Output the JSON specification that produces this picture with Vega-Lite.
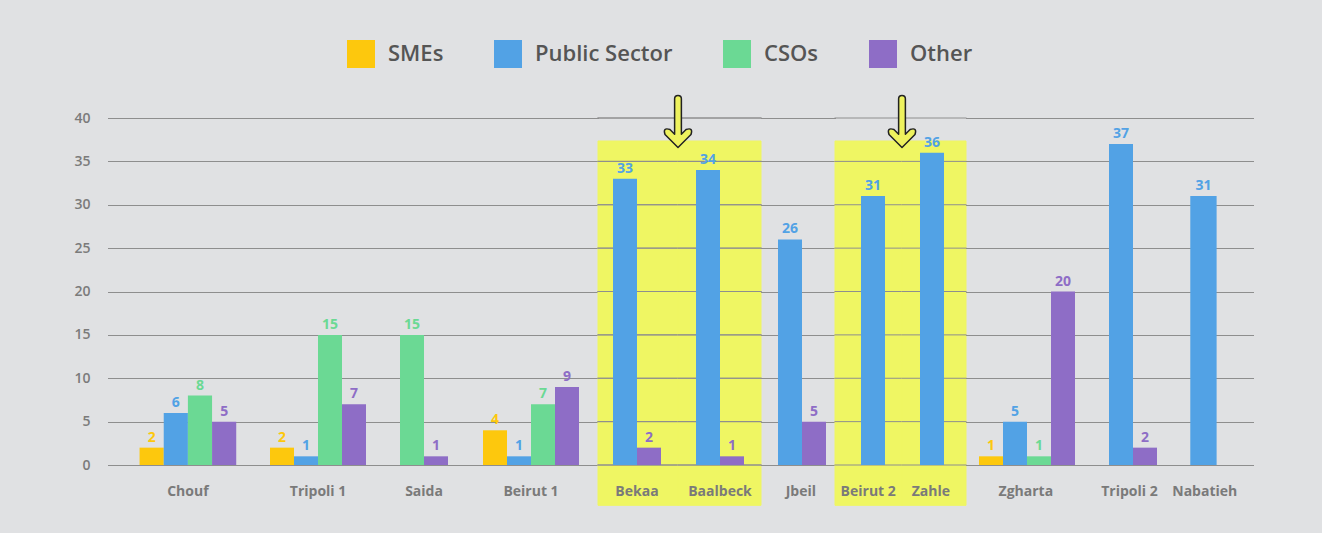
{
  "$schema": "https://vega.github.io/schema/vega-lite/v6.json",
  "background": "#E0E1E3",
  "padding": {"left": 73, "top": 40, "right": 69, "bottom": 28},
  "data": {
    "values": [
      {"district": "Chouf", "series": "SMEs", "value": 2},
      {"district": "Chouf", "series": "Public Sector", "value": 6},
      {"district": "Chouf", "series": "CSOs", "value": 8},
      {"district": "Chouf", "series": "Other", "value": 5},
      {"district": "Tripoli 1", "series": "SMEs", "value": 2},
      {"district": "Tripoli 1", "series": "Public Sector", "value": 1},
      {"district": "Tripoli 1", "series": "CSOs", "value": 15},
      {"district": "Tripoli 1", "series": "Other", "value": 7},
      {"district": "Saida", "series": "CSOs", "value": 15},
      {"district": "Saida", "series": "Other", "value": 1},
      {"district": "Beirut 1", "series": "SMEs", "value": 4},
      {"district": "Beirut 1", "series": "Public Sector", "value": 1},
      {"district": "Beirut 1", "series": "CSOs", "value": 7},
      {"district": "Beirut 1", "series": "Other", "value": 9},
      {"district": "Bekaa", "series": "Public Sector", "value": 33},
      {"district": "Bekaa", "series": "Other", "value": 2},
      {"district": "Baalbeck", "series": "Public Sector", "value": 34},
      {"district": "Baalbeck", "series": "Other", "value": 1},
      {"district": "Jbeil", "series": "Public Sector", "value": 26},
      {"district": "Jbeil", "series": "Other", "value": 5},
      {"district": "Beirut 2", "series": "Public Sector", "value": 31},
      {"district": "Zahle", "series": "Public Sector", "value": 36},
      {"district": "Zgharta", "series": "SMEs", "value": 1},
      {"district": "Zgharta", "series": "Public Sector", "value": 5},
      {"district": "Zgharta", "series": "CSOs", "value": 1},
      {"district": "Zgharta", "series": "Other", "value": 20},
      {"district": "Tripoli 2", "series": "Public Sector", "value": 37},
      {"district": "Tripoli 2", "series": "Other", "value": 2},
      {"district": "Nabatieh", "series": "Public Sector", "value": 31}
    ]
  },
  "spacing": 0,
  "bounds": "flush",
  "resolve": {"scale": {"x": "independent", "y": "independent", "color": "shared"}},
  "hconcat": [
    {
      "transform": [{"filter": "datum.district == 'Chouf'"}],
      "width": {"step": 24}, "height": 347,
      "layer": [
        {"mark": "bar", "encoding": {
          "x": {"field": "series", "type": "nominal", "sort": ["SMEs", "Public Sector", "CSOs", "Other"], "scale": {"paddingInner": 0, "paddingOuter": 1.0208333333, "align": 0.6530612245}, "axis": null},
          "y": {"field": "value", "type": "quantitative", "scale": {"domain": [0, 40], "nice": false}, "axis": {"title": null, "labels": true, "grid": true, "labelPadding": 18}},
          "color": {"field": "series", "type": "nominal", "scale": {"domain": ["SMEs", "Public Sector", "CSOs", "Other"], "range": ["#FDC80D", "#52A2E5", "#6BD994", "#8E6DC6"]}, "legend": {"title": null}}}},
        {"mark": {"type": "text", "baseline": "alphabetic", "dy": -6, "fontSize": 14, "fontWeight": "bold"}, "encoding": {
          "x": {"field": "series", "type": "nominal", "sort": ["SMEs", "Public Sector", "CSOs", "Other"], "axis": null},
          "y": {"field": "value", "type": "quantitative"},
          "text": {"field": "value", "type": "quantitative"},
          "color": {"field": "series", "type": "nominal"}}},
        {"transform": [{"aggregate": [{"op": "count", "as": "n"}], "groupby": ["district"]}],
         "mark": {"type": "text", "baseline": "alphabetic", "fontSize": 14, "fontWeight": "bold", "color": "#7A7A7A"},
         "encoding": {"x": {"datum": "Public Sector", "bandPosition": 1}, "y": {"datum": -3.6, "type": "quantitative"}, "text": {"field": "district", "type": "nominal"}}}
      ]
    },
    {
      "transform": [{"filter": "datum.district == 'Tripoli 1'"}],
      "width": {"step": 24}, "height": 347,
      "layer": [
        {"mark": "bar", "encoding": {
          "x": {"field": "series", "type": "nominal", "sort": ["SMEs", "Public Sector", "CSOs", "Other"], "scale": {"paddingInner": 0, "paddingOuter": 0.7083333333, "align": 0.5}, "axis": null},
          "y": {"field": "value", "type": "quantitative", "scale": {"domain": [0, 40], "nice": false}, "axis": {"title": null, "labels": false, "grid": true}},
          "color": {"field": "series", "type": "nominal", "scale": {"domain": ["SMEs", "Public Sector", "CSOs", "Other"], "range": ["#FDC80D", "#52A2E5", "#6BD994", "#8E6DC6"]}, "legend": {"title": null}}}},
        {"mark": {"type": "text", "baseline": "alphabetic", "dy": -6, "fontSize": 14, "fontWeight": "bold"}, "encoding": {
          "x": {"field": "series", "type": "nominal", "sort": ["SMEs", "Public Sector", "CSOs", "Other"], "axis": null},
          "y": {"field": "value", "type": "quantitative"},
          "text": {"field": "value", "type": "quantitative"},
          "color": {"field": "series", "type": "nominal"}}},
        {"transform": [{"aggregate": [{"op": "count", "as": "n"}], "groupby": ["district"]}],
         "mark": {"type": "text", "baseline": "alphabetic", "fontSize": 14, "fontWeight": "bold", "color": "#7A7A7A"},
         "encoding": {"x": {"datum": "Public Sector", "bandPosition": 1}, "y": {"datum": -3.6, "type": "quantitative"}, "text": {"field": "district", "type": "nominal"}}}
      ]
    },
    {
      "transform": [{"filter": "datum.district == 'Saida'"}],
      "width": {"step": 24}, "height": 347,
      "layer": [
        {"mark": "bar", "encoding": {
          "x": {"field": "series", "type": "nominal", "sort": ["SMEs", "Public Sector", "CSOs", "Other"], "scale": {"paddingInner": 0, "paddingOuter": 0.7083333333, "align": 0.5}, "axis": null},
          "y": {"field": "value", "type": "quantitative", "scale": {"domain": [0, 40], "nice": false}, "axis": {"title": null, "labels": false, "grid": true}},
          "color": {"field": "series", "type": "nominal", "scale": {"domain": ["SMEs", "Public Sector", "CSOs", "Other"], "range": ["#FDC80D", "#52A2E5", "#6BD994", "#8E6DC6"]}, "legend": {"title": null}}}},
        {"mark": {"type": "text", "baseline": "alphabetic", "dy": -6, "fontSize": 14, "fontWeight": "bold"}, "encoding": {
          "x": {"field": "series", "type": "nominal", "sort": ["SMEs", "Public Sector", "CSOs", "Other"], "axis": null},
          "y": {"field": "value", "type": "quantitative"},
          "text": {"field": "value", "type": "quantitative"},
          "color": {"field": "series", "type": "nominal"}}},
        {"transform": [{"aggregate": [{"op": "count", "as": "n"}], "groupby": ["district"]}],
         "mark": {"type": "text", "baseline": "alphabetic", "fontSize": 14, "fontWeight": "bold", "color": "#7A7A7A"},
         "encoding": {"x": {"datum": "CSOs", "bandPosition": 1}, "y": {"datum": -3.6, "type": "quantitative"}, "text": {"field": "district", "type": "nominal"}}}
      ]
    },
    {
      "transform": [{"filter": "datum.district == 'Beirut 1'"}],
      "width": {"step": 24}, "height": 347,
      "layer": [
        {"mark": "bar", "encoding": {
          "x": {"field": "series", "type": "nominal", "sort": ["SMEs", "Public Sector", "CSOs", "Other"], "scale": {"paddingInner": 0, "paddingOuter": 0.7708333333, "align": 0.4864864865}, "axis": null},
          "y": {"field": "value", "type": "quantitative", "scale": {"domain": [0, 40], "nice": false}, "axis": {"title": null, "labels": false, "grid": true}},
          "color": {"field": "series", "type": "nominal", "scale": {"domain": ["SMEs", "Public Sector", "CSOs", "Other"], "range": ["#FDC80D", "#52A2E5", "#6BD994", "#8E6DC6"]}, "legend": {"title": null}}}},
        {"mark": {"type": "text", "baseline": "alphabetic", "dy": -6, "fontSize": 14, "fontWeight": "bold"}, "encoding": {
          "x": {"field": "series", "type": "nominal", "sort": ["SMEs", "Public Sector", "CSOs", "Other"], "axis": null},
          "y": {"field": "value", "type": "quantitative"},
          "text": {"field": "value", "type": "quantitative"},
          "color": {"field": "series", "type": "nominal"}}},
        {"transform": [{"aggregate": [{"op": "count", "as": "n"}], "groupby": ["district"]}],
         "mark": {"type": "text", "baseline": "alphabetic", "fontSize": 14, "fontWeight": "bold", "color": "#7A7A7A"},
         "encoding": {"x": {"datum": "Public Sector", "bandPosition": 1}, "y": {"datum": -3.6, "type": "quantitative"}, "text": {"field": "district", "type": "nominal"}}}
      ]
    },
    {
      "transform": [{"filter": "datum.district == 'Bekaa'"}],
      "width": {"step": 24}, "height": 347,
      "layer": [
        {"transform": [{"aggregate": [{"op": "count", "as": "n"}], "groupby": ["district"]}],
         "mark": {"type": "rect", "color": "#EFF663", "stroke": "#EFF663", "strokeWidth": 1},
         "encoding": {"y": {"datum": 37.35, "type": "quantitative"}, "y2": {"datum": -4.65}}},
        {"mark": {"type": "rule", "color": "#8E8E8E", "strokeCap": "square"}, "encoding": {"y": {"datum": 0, "type": "quantitative"}}},
        {"mark": {"type": "rule", "color": "#8E8E8E", "strokeCap": "square"}, "encoding": {"y": {"datum": 5, "type": "quantitative"}}},
        {"mark": {"type": "rule", "color": "#8E8E8E", "strokeCap": "square"}, "encoding": {"y": {"datum": 10, "type": "quantitative"}}},
        {"mark": {"type": "rule", "color": "#8E8E8E", "strokeCap": "square"}, "encoding": {"y": {"datum": 15, "type": "quantitative"}}},
        {"mark": {"type": "rule", "color": "#8E8E8E", "strokeCap": "square"}, "encoding": {"y": {"datum": 20, "type": "quantitative"}}},
        {"mark": {"type": "rule", "color": "#8E8E8E", "strokeCap": "square"}, "encoding": {"y": {"datum": 25, "type": "quantitative"}}},
        {"mark": {"type": "rule", "color": "#8E8E8E", "strokeCap": "square"}, "encoding": {"y": {"datum": 30, "type": "quantitative"}}},
        {"mark": {"type": "rule", "color": "#8E8E8E", "strokeCap": "square"}, "encoding": {"y": {"datum": 35, "type": "quantitative"}}},
        {"mark": {"type": "rule", "color": "#8E8E8E", "strokeCap": "square"}, "encoding": {"y": {"datum": 40, "type": "quantitative"}}},
        {"mark": "bar", "encoding": {
          "x": {"field": "series", "type": "nominal", "sort": ["SMEs", "Public Sector", "CSOs", "Other"], "scale": {"paddingInner": 0, "paddingOuter": 0.6666666666, "align": 0.46875}, "axis": null},
          "y": {"field": "value", "type": "quantitative", "scale": {"domain": [0, 40], "nice": false}, "axis": {"title": null, "labels": false, "grid": false}},
          "color": {"field": "series", "type": "nominal", "scale": {"domain": ["SMEs", "Public Sector", "CSOs", "Other"], "range": ["#FDC80D", "#52A2E5", "#6BD994", "#8E6DC6"]}, "legend": {"title": null}}}},
        {"mark": {"type": "text", "baseline": "alphabetic", "dy": -6, "fontSize": 14, "fontWeight": "bold"}, "encoding": {
          "x": {"field": "series", "type": "nominal", "sort": ["SMEs", "Public Sector", "CSOs", "Other"], "axis": null},
          "y": {"field": "value", "type": "quantitative"},
          "text": {"field": "value", "type": "quantitative"},
          "color": {"field": "series", "type": "nominal"}}},
        {"transform": [{"aggregate": [{"op": "count", "as": "n"}], "groupby": ["district"]}],
         "mark": {"type": "text", "baseline": "alphabetic", "fontSize": 14, "fontWeight": "bold", "color": "#7A7A7A"},
         "encoding": {"x": {"datum": "Public Sector", "bandPosition": 1}, "y": {"datum": -3.6, "type": "quantitative"}, "text": {"field": "district", "type": "nominal"}}}
      ]
    },
    {
      "transform": [{"filter": "datum.district == 'Baalbeck'"}],
      "width": {"step": 24}, "height": 347,
      "layer": [
        {"transform": [{"aggregate": [{"op": "count", "as": "n"}], "groupby": ["district"]}],
         "mark": {"type": "rect", "color": "#EFF663", "stroke": "#EFF663", "strokeWidth": 1},
         "encoding": {"y": {"datum": 37.35, "type": "quantitative"}, "y2": {"datum": -4.65}}},
        {"mark": {"type": "rule", "color": "#8E8E8E", "strokeCap": "square"}, "encoding": {"y": {"datum": 0, "type": "quantitative"}}},
        {"mark": {"type": "rule", "color": "#8E8E8E", "strokeCap": "square"}, "encoding": {"y": {"datum": 5, "type": "quantitative"}}},
        {"mark": {"type": "rule", "color": "#8E8E8E", "strokeCap": "square"}, "encoding": {"y": {"datum": 10, "type": "quantitative"}}},
        {"mark": {"type": "rule", "color": "#8E8E8E", "strokeCap": "square"}, "encoding": {"y": {"datum": 15, "type": "quantitative"}}},
        {"mark": {"type": "rule", "color": "#8E8E8E", "strokeCap": "square"}, "encoding": {"y": {"datum": 20, "type": "quantitative"}}},
        {"mark": {"type": "rule", "color": "#8E8E8E", "strokeCap": "square"}, "encoding": {"y": {"datum": 25, "type": "quantitative"}}},
        {"mark": {"type": "rule", "color": "#8E8E8E", "strokeCap": "square"}, "encoding": {"y": {"datum": 30, "type": "quantitative"}}},
        {"mark": {"type": "rule", "color": "#8E8E8E", "strokeCap": "square"}, "encoding": {"y": {"datum": 35, "type": "quantitative"}}},
        {"mark": {"type": "rule", "color": "#8E8E8E", "strokeCap": "square"}, "encoding": {"y": {"datum": 40, "type": "quantitative"}}},
        {"mark": "bar", "encoding": {
          "x": {"field": "series", "type": "nominal", "sort": ["SMEs", "Public Sector", "CSOs", "Other"], "scale": {"paddingInner": 0, "paddingOuter": 0.7291666666, "align": 0.5142857143}, "axis": null},
          "y": {"field": "value", "type": "quantitative", "scale": {"domain": [0, 40], "nice": false}, "axis": {"title": null, "labels": false, "grid": false}},
          "color": {"field": "series", "type": "nominal", "scale": {"domain": ["SMEs", "Public Sector", "CSOs", "Other"], "range": ["#FDC80D", "#52A2E5", "#6BD994", "#8E6DC6"]}, "legend": {"title": null}}}},
        {"mark": {"type": "text", "baseline": "alphabetic", "dy": -6, "fontSize": 14, "fontWeight": "bold"}, "encoding": {
          "x": {"field": "series", "type": "nominal", "sort": ["SMEs", "Public Sector", "CSOs", "Other"], "axis": null},
          "y": {"field": "value", "type": "quantitative"},
          "text": {"field": "value", "type": "quantitative"},
          "color": {"field": "series", "type": "nominal"}}},
        {"transform": [{"aggregate": [{"op": "count", "as": "n"}], "groupby": ["district"]}],
         "mark": {"type": "text", "baseline": "alphabetic", "fontSize": 14, "fontWeight": "bold", "color": "#7A7A7A"},
         "encoding": {"x": {"datum": "Public Sector", "bandPosition": 1}, "y": {"datum": -3.6, "type": "quantitative"}, "text": {"field": "district", "type": "nominal"}}},
        {"transform": [{"aggregate": [{"op": "count", "as": "n"}], "groupby": ["district"]}],
         "mark": {"type": "point", "shape": "M0,1 L-0.5,0.5 Q-0.596,0.214 -0.309,0.309 L-0.13,0.488 L-0.13,-0.87 Q-0.13,-1 0,-1 Q0.13,-1 0.13,-0.87 L0.13,0.488 L0.309,0.309 Q0.596,0.214 0.5,0.5 Z", "size": 2704, "filled": true, "fill": "#EEF25E", "stroke": "#222222", "strokeWidth": 1.5, "strokeJoin": "round", "opacity": 1},
         "encoding": {"x": {"value": 0}, "y": {"datum": 39.6, "type": "quantitative"}}}
      ]
    },
    {
      "transform": [{"filter": "datum.district == 'Jbeil'"}],
      "width": {"step": 24}, "height": 347,
      "layer": [
        {"mark": "bar", "encoding": {
          "x": {"field": "series", "type": "nominal", "sort": ["SMEs", "Public Sector", "CSOs", "Other"], "scale": {"paddingInner": 0, "paddingOuter": 0.5416666666, "align": 0.6538461538}, "axis": null},
          "y": {"field": "value", "type": "quantitative", "scale": {"domain": [0, 40], "nice": false}, "axis": {"title": null, "labels": false, "grid": true}},
          "color": {"field": "series", "type": "nominal", "scale": {"domain": ["SMEs", "Public Sector", "CSOs", "Other"], "range": ["#FDC80D", "#52A2E5", "#6BD994", "#8E6DC6"]}, "legend": {"title": null}}}},
        {"mark": {"type": "text", "baseline": "alphabetic", "dy": -6, "fontSize": 14, "fontWeight": "bold"}, "encoding": {
          "x": {"field": "series", "type": "nominal", "sort": ["SMEs", "Public Sector", "CSOs", "Other"], "axis": null},
          "y": {"field": "value", "type": "quantitative"},
          "text": {"field": "value", "type": "quantitative"},
          "color": {"field": "series", "type": "nominal"}}},
        {"transform": [{"aggregate": [{"op": "count", "as": "n"}], "groupby": ["district"]}],
         "mark": {"type": "text", "baseline": "alphabetic", "fontSize": 14, "fontWeight": "bold", "color": "#7A7A7A"},
         "encoding": {"x": {"datum": "Public Sector", "bandPosition": 0.95}, "y": {"datum": -3.6, "type": "quantitative"}, "text": {"field": "district", "type": "nominal"}}}
      ]
    },
    {
      "transform": [{"filter": "datum.district == 'Beirut 2'"}],
      "width": {"step": 24}, "height": 347,
      "layer": [
        {"transform": [{"aggregate": [{"op": "count", "as": "n"}], "groupby": ["district"]}],
         "mark": {"type": "rect", "color": "#EFF663", "stroke": "#EFF663", "strokeWidth": 1},
         "encoding": {"y": {"datum": 37.35, "type": "quantitative"}, "y2": {"datum": -4.65}}},
        {"mark": {"type": "rule", "color": "#8E8E8E", "strokeCap": "square"}, "encoding": {"y": {"datum": 0, "type": "quantitative"}}},
        {"mark": {"type": "rule", "color": "#8E8E8E", "strokeCap": "square"}, "encoding": {"y": {"datum": 5, "type": "quantitative"}}},
        {"mark": {"type": "rule", "color": "#8E8E8E", "strokeCap": "square"}, "encoding": {"y": {"datum": 10, "type": "quantitative"}}},
        {"mark": {"type": "rule", "color": "#8E8E8E", "strokeCap": "square"}, "encoding": {"y": {"datum": 15, "type": "quantitative"}}},
        {"mark": {"type": "rule", "color": "#8E8E8E", "strokeCap": "square"}, "encoding": {"y": {"datum": 20, "type": "quantitative"}}},
        {"mark": {"type": "rule", "color": "#8E8E8E", "strokeCap": "square"}, "encoding": {"y": {"datum": 25, "type": "quantitative"}}},
        {"mark": {"type": "rule", "color": "#8E8E8E", "strokeCap": "square"}, "encoding": {"y": {"datum": 30, "type": "quantitative"}}},
        {"mark": {"type": "rule", "color": "#8E8E8E", "strokeCap": "square"}, "encoding": {"y": {"datum": 35, "type": "quantitative"}}},
        {"mark": {"type": "rule", "color": "#8E8E8E", "strokeCap": "square"}, "encoding": {"y": {"datum": 40, "type": "quantitative"}}},
        {"mark": "bar", "encoding": {
          "x": {"field": "series", "type": "nominal", "sort": ["SMEs", "Public Sector", "CSOs", "Other"], "scale": {"paddingInner": 0, "paddingOuter": 0.8958333333, "align": 0.6046511628}, "axis": null},
          "y": {"field": "value", "type": "quantitative", "scale": {"domain": [0, 40], "nice": false}, "axis": {"title": null, "labels": false, "grid": false}},
          "color": {"field": "series", "type": "nominal", "scale": {"domain": ["SMEs", "Public Sector", "CSOs", "Other"], "range": ["#FDC80D", "#52A2E5", "#6BD994", "#8E6DC6"]}, "legend": {"title": null}}}},
        {"mark": {"type": "text", "baseline": "alphabetic", "dy": -6, "fontSize": 14, "fontWeight": "bold"}, "encoding": {
          "x": {"field": "series", "type": "nominal", "sort": ["SMEs", "Public Sector", "CSOs", "Other"], "axis": null},
          "y": {"field": "value", "type": "quantitative"},
          "text": {"field": "value", "type": "quantitative"},
          "color": {"field": "series", "type": "nominal"}}},
        {"transform": [{"aggregate": [{"op": "count", "as": "n"}], "groupby": ["district"]}],
         "mark": {"type": "text", "baseline": "alphabetic", "fontSize": 14, "fontWeight": "bold", "color": "#7A7A7A"},
         "encoding": {"x": {"datum": "Public Sector", "bandPosition": 0.3}, "y": {"datum": -3.6, "type": "quantitative"}, "text": {"field": "district", "type": "nominal"}}}
      ]
    },
    {
      "transform": [{"filter": "datum.district == 'Zahle'"}],
      "width": {"step": 24}, "height": 347,
      "layer": [
        {"transform": [{"aggregate": [{"op": "count", "as": "n"}], "groupby": ["district"]}],
         "mark": {"type": "rect", "color": "#EFF663", "stroke": "#EFF663", "strokeWidth": 1},
         "encoding": {"y": {"datum": 37.35, "type": "quantitative"}, "y2": {"datum": -4.65}}},
        {"mark": {"type": "rule", "color": "#8E8E8E", "strokeCap": "square"}, "encoding": {"y": {"datum": 0, "type": "quantitative"}}},
        {"mark": {"type": "rule", "color": "#8E8E8E", "strokeCap": "square"}, "encoding": {"y": {"datum": 5, "type": "quantitative"}}},
        {"mark": {"type": "rule", "color": "#8E8E8E", "strokeCap": "square"}, "encoding": {"y": {"datum": 10, "type": "quantitative"}}},
        {"mark": {"type": "rule", "color": "#8E8E8E", "strokeCap": "square"}, "encoding": {"y": {"datum": 15, "type": "quantitative"}}},
        {"mark": {"type": "rule", "color": "#8E8E8E", "strokeCap": "square"}, "encoding": {"y": {"datum": 20, "type": "quantitative"}}},
        {"mark": {"type": "rule", "color": "#8E8E8E", "strokeCap": "square"}, "encoding": {"y": {"datum": 25, "type": "quantitative"}}},
        {"mark": {"type": "rule", "color": "#8E8E8E", "strokeCap": "square"}, "encoding": {"y": {"datum": 30, "type": "quantitative"}}},
        {"mark": {"type": "rule", "color": "#8E8E8E", "strokeCap": "square"}, "encoding": {"y": {"datum": 35, "type": "quantitative"}}},
        {"mark": {"type": "rule", "color": "#8E8E8E", "strokeCap": "square"}, "encoding": {"y": {"datum": 40, "type": "quantitative"}}},
        {"mark": "bar", "encoding": {
          "x": {"field": "series", "type": "nominal", "sort": ["SMEs", "Public Sector", "CSOs", "Other"], "scale": {"paddingInner": 0, "paddingOuter": 0.8333333333, "align": 0.45}, "axis": null},
          "y": {"field": "value", "type": "quantitative", "scale": {"domain": [0, 40], "nice": false}, "axis": {"title": null, "labels": false, "grid": false}},
          "color": {"field": "series", "type": "nominal", "scale": {"domain": ["SMEs", "Public Sector", "CSOs", "Other"], "range": ["#FDC80D", "#52A2E5", "#6BD994", "#8E6DC6"]}, "legend": {"title": null}}}},
        {"mark": {"type": "text", "baseline": "alphabetic", "dy": -6, "fontSize": 14, "fontWeight": "bold"}, "encoding": {
          "x": {"field": "series", "type": "nominal", "sort": ["SMEs", "Public Sector", "CSOs", "Other"], "axis": null},
          "y": {"field": "value", "type": "quantitative"},
          "text": {"field": "value", "type": "quantitative"},
          "color": {"field": "series", "type": "nominal"}}},
        {"transform": [{"aggregate": [{"op": "count", "as": "n"}], "groupby": ["district"]}],
         "mark": {"type": "text", "baseline": "alphabetic", "fontSize": 14, "fontWeight": "bold", "color": "#7A7A7A"},
         "encoding": {"x": {"datum": "Public Sector", "bandPosition": 0.45}, "y": {"datum": -3.6, "type": "quantitative"}, "text": {"field": "district", "type": "nominal"}}},
        {"transform": [{"aggregate": [{"op": "count", "as": "n"}], "groupby": ["district"]}],
         "mark": {"type": "point", "shape": "M0,1 L-0.5,0.5 Q-0.596,0.214 -0.309,0.309 L-0.13,0.488 L-0.13,-0.87 Q-0.13,-1 0,-1 Q0.13,-1 0.13,-0.87 L0.13,0.488 L0.309,0.309 Q0.596,0.214 0.5,0.5 Z", "size": 2704, "filled": true, "fill": "#EEF25E", "stroke": "#222222", "strokeWidth": 1.5, "strokeJoin": "round", "opacity": 1},
         "encoding": {"x": {"value": 0}, "y": {"datum": 39.6, "type": "quantitative"}}}
      ]
    },
    {
      "transform": [{"filter": "datum.district == 'Zgharta'"}],
      "width": {"step": 24}, "height": 347,
      "layer": [
        {"mark": "bar", "encoding": {
          "x": {"field": "series", "type": "nominal", "sort": ["SMEs", "Public Sector", "CSOs", "Other"], "scale": {"paddingInner": 0, "paddingOuter": 0.625, "align": 0.4333333333}, "axis": null},
          "y": {"field": "value", "type": "quantitative", "scale": {"domain": [0, 40], "nice": false}, "axis": {"title": null, "labels": false, "grid": true}},
          "color": {"field": "series", "type": "nominal", "scale": {"domain": ["SMEs", "Public Sector", "CSOs", "Other"], "range": ["#FDC80D", "#52A2E5", "#6BD994", "#8E6DC6"]}, "legend": {"title": null}}}},
        {"mark": {"type": "text", "baseline": "alphabetic", "dy": -6, "fontSize": 14, "fontWeight": "bold"}, "encoding": {
          "x": {"field": "series", "type": "nominal", "sort": ["SMEs", "Public Sector", "CSOs", "Other"], "axis": null},
          "y": {"field": "value", "type": "quantitative"},
          "text": {"field": "value", "type": "quantitative"},
          "color": {"field": "series", "type": "nominal"}}},
        {"transform": [{"aggregate": [{"op": "count", "as": "n"}], "groupby": ["district"]}],
         "mark": {"type": "text", "baseline": "alphabetic", "fontSize": 14, "fontWeight": "bold", "color": "#7A7A7A"},
         "encoding": {"x": {"datum": "Public Sector", "bandPosition": 0.95}, "y": {"datum": -3.6, "type": "quantitative"}, "text": {"field": "district", "type": "nominal"}}}
      ]
    },
    {
      "transform": [{"filter": "datum.district == 'Tripoli 2'"}],
      "width": {"step": 24}, "height": 347,
      "layer": [
        {"mark": "bar", "encoding": {
          "x": {"field": "series", "type": "nominal", "sort": ["SMEs", "Public Sector", "CSOs", "Other"], "scale": {"paddingInner": 0, "paddingOuter": 0.7083333333, "align": 0.5}, "axis": null},
          "y": {"field": "value", "type": "quantitative", "scale": {"domain": [0, 40], "nice": false}, "axis": {"title": null, "labels": false, "grid": true}},
          "color": {"field": "series", "type": "nominal", "scale": {"domain": ["SMEs", "Public Sector", "CSOs", "Other"], "range": ["#FDC80D", "#52A2E5", "#6BD994", "#8E6DC6"]}, "legend": {"title": null}}}},
        {"mark": {"type": "text", "baseline": "alphabetic", "dy": -6, "fontSize": 14, "fontWeight": "bold"}, "encoding": {
          "x": {"field": "series", "type": "nominal", "sort": ["SMEs", "Public Sector", "CSOs", "Other"], "axis": null},
          "y": {"field": "value", "type": "quantitative"},
          "text": {"field": "value", "type": "quantitative"},
          "color": {"field": "series", "type": "nominal"}}},
        {"transform": [{"aggregate": [{"op": "count", "as": "n"}], "groupby": ["district"]}],
         "mark": {"type": "text", "baseline": "alphabetic", "fontSize": 14, "fontWeight": "bold", "color": "#7A7A7A"},
         "encoding": {"x": {"datum": "Public Sector", "bandPosition": 0.85}, "y": {"datum": -3.6, "type": "quantitative"}, "text": {"field": "district", "type": "nominal"}}}
      ]
    },
    {
      "transform": [{"filter": "datum.district == 'Nabatieh'"}],
      "width": {"step": 24}, "height": 347,
      "layer": [
        {"mark": "bar", "encoding": {
          "x": {"field": "series", "type": "nominal", "sort": ["SMEs", "Public Sector", "CSOs", "Other"], "scale": {"paddingInner": 0, "paddingOuter": 1.1458333333, "align": 0.3090909091}, "axis": null},
          "y": {"field": "value", "type": "quantitative", "scale": {"domain": [0, 40], "nice": false}, "axis": {"title": null, "labels": false, "grid": true}},
          "color": {"field": "series", "type": "nominal", "scale": {"domain": ["SMEs", "Public Sector", "CSOs", "Other"], "range": ["#FDC80D", "#52A2E5", "#6BD994", "#8E6DC6"]}, "legend": {"title": null}}}},
        {"mark": {"type": "text", "baseline": "alphabetic", "dy": -6, "fontSize": 14, "fontWeight": "bold"}, "encoding": {
          "x": {"field": "series", "type": "nominal", "sort": ["SMEs", "Public Sector", "CSOs", "Other"], "axis": null},
          "y": {"field": "value", "type": "quantitative"},
          "text": {"field": "value", "type": "quantitative"},
          "color": {"field": "series", "type": "nominal"}}},
        {"transform": [{"aggregate": [{"op": "count", "as": "n"}], "groupby": ["district"]}],
         "mark": {"type": "text", "baseline": "alphabetic", "fontSize": 14, "fontWeight": "bold", "color": "#7A7A7A"},
         "encoding": {"x": {"datum": "Public Sector", "bandPosition": 0.55}, "y": {"datum": -3.6, "type": "quantitative"}, "text": {"field": "district", "type": "nominal"}}}
      ]
    }
  ],
  "config": {
    "view": {"stroke": null},
    "font": "Open Sans",
    "axisY": {
      "domain": false,
      "ticks": false,
      "tickSize": 0,
      "tickCount": 8,
      "gridColor": "#8E8E8E",
      "gridOpacity": 1,
      "gridWidth": 1,
      "gridCap": "square",
      "labelFont": "Open Sans",
      "labelFontSize": 14,
      "labelFontWeight": 600,
      "labelColor": "#7B7B7B"
    },
    "legend": {
      "orient": "none",
      "direction": "horizontal",
      "legendX": 239,
      "legendY": -78,
      "padding": 0,
      "symbolType": "square",
      "symbolSize": 784,
      "symbolStrokeWidth": 0,
      "symbolOpacity": 1,
      "labelFont": "Open Sans",
      "labelFontSize": 22,
      "labelFontWeight": 600,
      "labelColor": "#555555",
      "labelOffset": 13,
      "columnPadding": 50
    }
  }
}
